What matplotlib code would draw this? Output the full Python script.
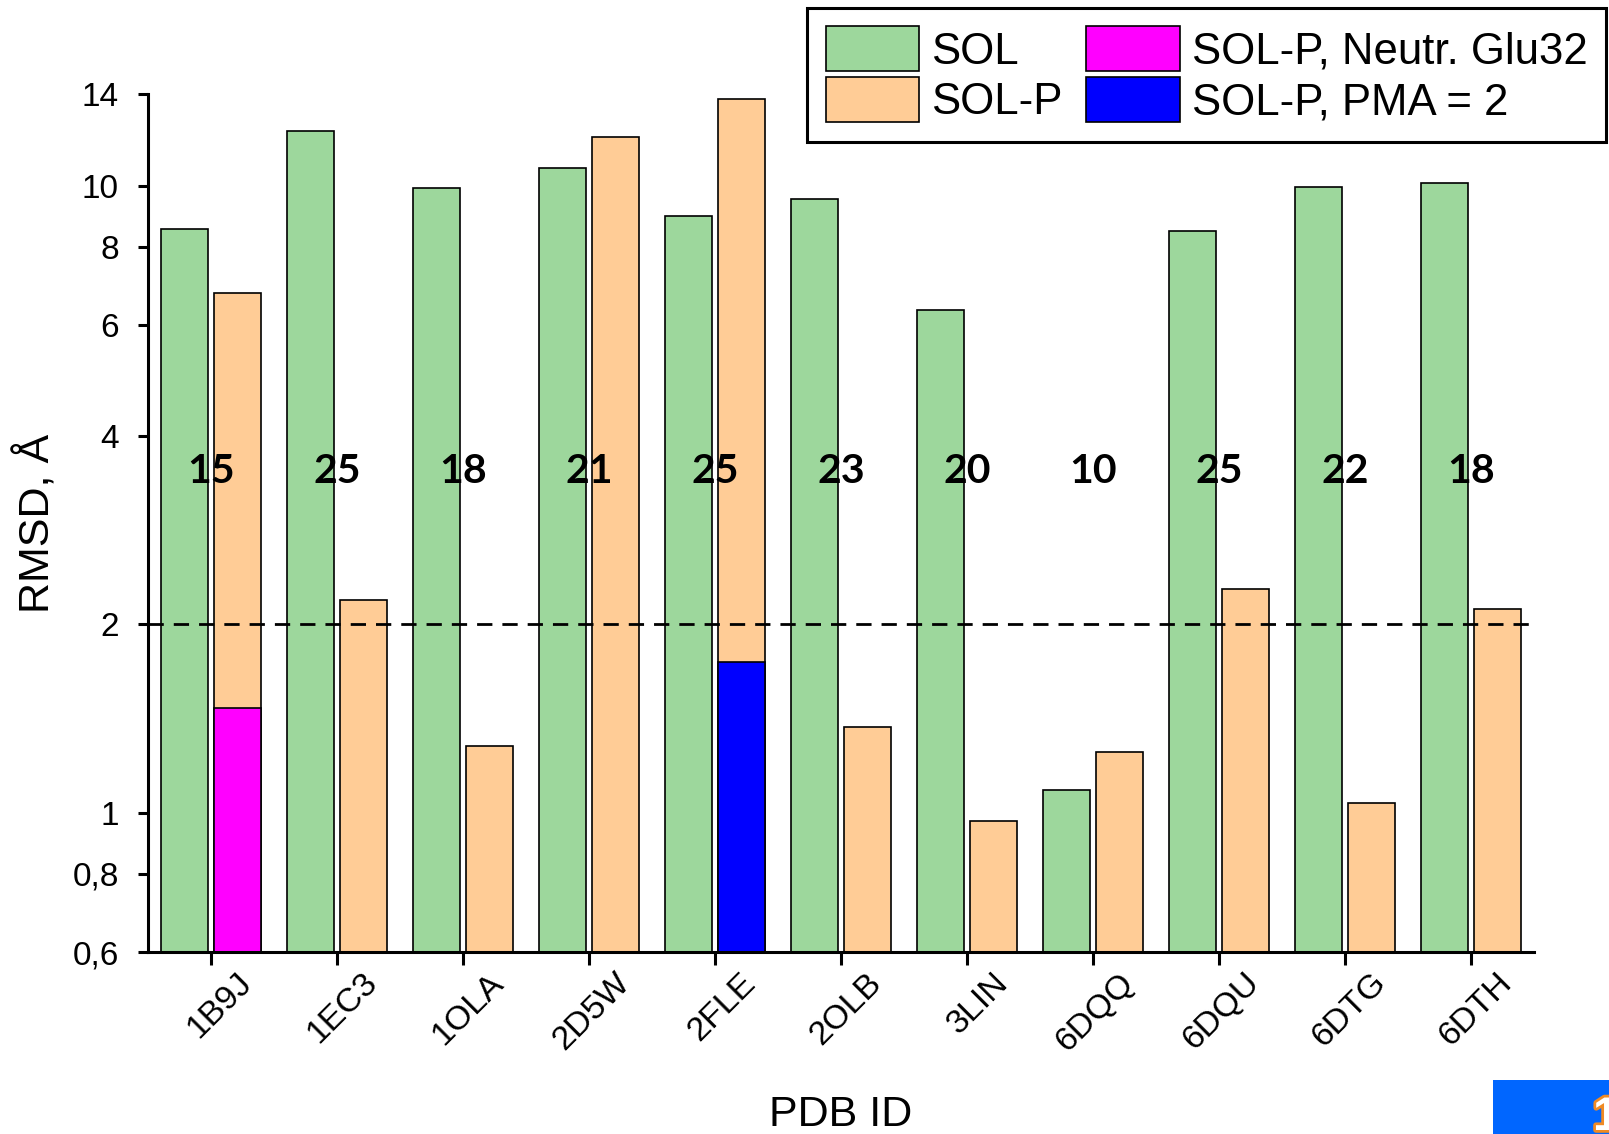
import matplotlib
matplotlib.use("Agg")
import matplotlib.pyplot as plt
import matplotlib.patheffects as pe
from matplotlib.patches import Patch, Rectangle
from matplotlib.ticker import FixedLocator, FixedFormatter, NullLocator
from matplotlib.transforms import ScaledTranslation
import numpy as np

# --- data -------------------------------------------------------------
pdb_ids = ["1B9J", "1EC3", "1OLA", "2D5W", "2FLE", "2OLB",
           "3LIN", "6DQQ", "6DQU", "6DTG", "6DTH"]
rmsd_sol = [8.55, 12.25, 9.93, 10.69, 8.97, 9.53, 6.35, 1.09, 8.49, 9.98, 10.1]
rmsd_solp = [6.74, 2.19, 1.28, 11.98, 13.76, 1.37, 0.97, 1.25, 2.28, 1.04, 2.12]
glu32_ids = ["1B9J"]
rmsd_glu32 = [1.47]
pma2_ids = ["2FLE"]
rmsd_pma2 = [1.74]
counts = [15, 25, 18, 21, 25, 23, 20, 10, 25, 22, 18]
y_ticks = [0.6, 0.8, 1, 2, 4, 6, 8, 10, 14]
y_tick_labels = ["0,6", "0,8", "1", "2", "4", "6", "8", "10", "14"]
threshold = 2.0

# --- style ------------------------------------------------------------
plt.rcParams["font.family"] = ["Liberation Sans", "DejaVu Sans"]
c_sol = "#9dd79c"
c_solp = "#ffcc96"
c_glu = "#ff00ff"
c_pma = "#0000ff"
edge_lw = 1.2
bar_w = 0.37
shift = 0.21
base = 0.5  # bars start below the visible axis range

fig = plt.figure(figsize=(16.09, 11.34), dpi=100)
ax = fig.add_axes([0.092, 0.1602, 0.8614, 0.7566])
ax.set_yscale("log")

x = np.arange(len(pdb_ids))
ax.bar(x - shift, np.array(rmsd_sol) - base, width=bar_w, bottom=base,
       color=c_sol, edgecolor="black", linewidth=edge_lw, zorder=2)
ax.bar(x + shift, np.array(rmsd_solp) - base, width=bar_w, bottom=base,
       color=c_solp, edgecolor="black", linewidth=edge_lw, zorder=2)

gx = np.array([pdb_ids.index(p) for p in glu32_ids])
ax.bar(gx + shift, np.array(rmsd_glu32) - base, width=bar_w, bottom=base,
       color=c_glu, edgecolor="black", linewidth=edge_lw, zorder=2.5)
px = np.array([pdb_ids.index(p) for p in pma2_ids])
ax.bar(px + shift, np.array(rmsd_pma2) - base, width=bar_w, bottom=base,
       color=c_pma, edgecolor="black", linewidth=edge_lw, zorder=2.5)

# 2 Å threshold
ax.axhline(threshold, color="black", lw=2.0, linestyle=(0, (5.5, 3.6)), zorder=3)

# number of structures per system
for i, n in enumerate(counts):
    ax.text(i, 3.5, str(n), ha="center", va="center", fontsize=29.5,
            fontweight="bold", family=["Lato", "DejaVu Sans"], zorder=4)

ax.set_xlim(-0.5, 10.5)
ax.set_ylim(0.6, 14)

ax.yaxis.set_major_locator(FixedLocator(y_ticks))
ax.yaxis.set_major_formatter(FixedFormatter(y_tick_labels))
ax.yaxis.set_minor_locator(NullLocator())

# category ticks; the rotated names are placed as texts on the x-axis transform
ax.set_xticks(x)
ax.set_xticklabels([])
label_offset = ScaledTranslation(0.25, -0.15, fig.dpi_scale_trans)
for i, name in enumerate(pdb_ids):
    ax.text(i, 0, name, transform=ax.get_xaxis_transform() + label_offset,
            rotation=45, rotation_mode="anchor", ha="right", va="top",
            fontsize=24.5, clip_on=False)

for side in ("top", "right"):
    ax.spines[side].set_visible(False)
for side in ("left", "bottom"):
    ax.spines[side].set_linewidth(2.2)

ax.tick_params(axis="y", which="major", length=7, width=2.2, pad=14,
               labelsize=24, direction="out")
ax.tick_params(axis="x", which="major", length=9.5, width=2.2,
               direction="out")

fig.text(37 / 1609, 0.5385, "RMSD, Å", rotation=90, ha="center",
         va="center", fontsize=31)
fig.text(0.5227, 1 - 1115 / 1134, "PDB ID", ha="center", va="center",
         fontsize=31)

handles = [
    Patch(facecolor=c_sol, edgecolor="black", linewidth=edge_lw, label="SOL"),
    Patch(facecolor=c_solp, edgecolor="black", linewidth=edge_lw, label="SOL-P"),
    Patch(facecolor=c_glu, edgecolor="black", linewidth=edge_lw,
          label="SOL-P, Neutr. Glu32"),
    Patch(facecolor=c_pma, edgecolor="black", linewidth=edge_lw,
          label="SOL-P, PMA = 2"),
]
leg = fig.legend(handles=handles, ncol=2, loc="upper right",
                 bbox_to_anchor=(1606 / 1609, 1 - 8 / 1134),
                 bbox_transform=fig.transFigure, fontsize=31.5,
                 handlelength=2.14, handleheight=1.2, handletextpad=0.27,
                 columnspacing=0.55, labelspacing=0.1, borderpad=0.42,
                 borderaxespad=0, fancybox=False, framealpha=1,
                 edgecolor="black")
leg.get_frame().set_linewidth(2.2)

# page badge in the lower right corner
fig.add_artist(Rectangle((1493 / 1609, 0), 116 / 1609, 54 / 1134,
                         transform=fig.transFigure, facecolor="#0066ff",
                         edgecolor="none"))
fig.text(1593 / 1609, 1 - 1096 / 1134, "1", ha="left", va="top",
         fontsize=34, fontweight="bold", color="white",
         path_effects=[pe.withStroke(linewidth=4, foreground="#f08a24")])

fig.savefig("out.png", dpi=100)
